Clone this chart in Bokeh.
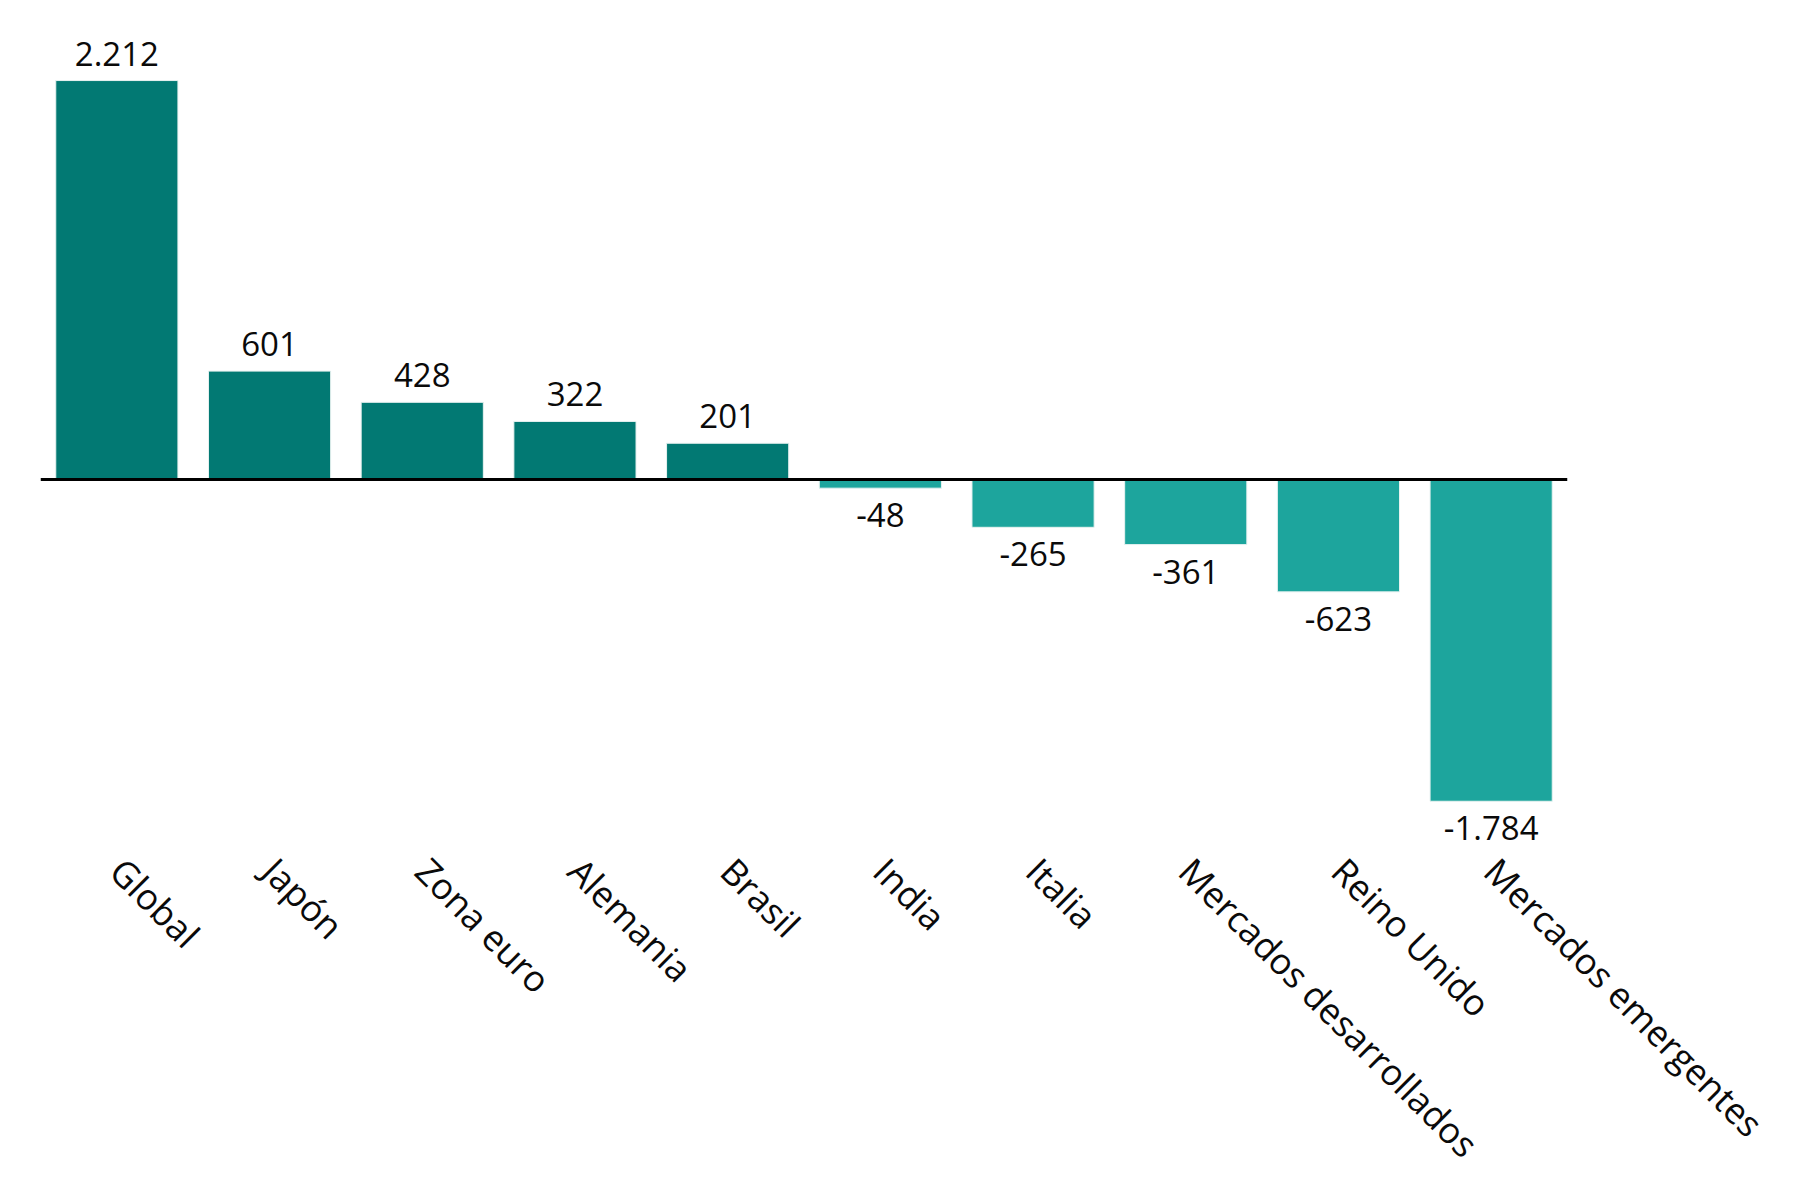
import math
from bokeh.plotting import figure
from bokeh.models import ColumnDataSource, Range1d, Span
from bokeh.core.properties import value
from bokeh.embed import file_html
from bokeh.resources import INLINE

categories = ["Global", "Japón", "Zona euro", "Alemania", "Brasil", "India",
              "Italia", "Mercados desarrollados", "Reino Unido", "Mercados emergentes"]
values = [2212, 601, 428, 322, 201, -48, -265, -361, -623, -1784]
value_labels = ["2.212", "601", "428", "322", "201", "-48", "-265", "-361", "-623", "-1.784"]

POS = "#027973"
NEG = "#1DA59D"
FONT = "Open Sans"

colors = [POS if v >= 0 else NEG for v in values]
offsets = [-15 if v >= 0 else 15 for v in values]
baselines = ["bottom" if v >= 0 else "top" for v in values]

src = ColumnDataSource(dict(cat=categories, val=values, lab=value_labels,
                            color=colors, yoff=offsets, base=baselines))

p = figure(x_range=categories, y_range=Range1d(-2057, 2545),
           frame_width=1527, frame_height=830,
           output_backend="svg", toolbar_location=None,
           min_border_left=40, min_border_right=217, min_border_top=20,
           min_border_bottom=320)

p.vbar(x="cat", top="val", width=0.8, fill_color="color", line_color="#e8f2f1",
       line_width=1, source=src)

p.add_layout(Span(location=0, dimension="width", line_color="black", line_width=3))

p.text(x="cat", y="val", text="lab", y_offset="yoff", text_baseline="base",
       text_align="center", text_font=value(FONT), text_font_size="33px",
       text_color="#0a0a0a", source=src)

p.xaxis.major_label_orientation = -math.pi / 4
p.xaxis.major_label_text_font = FONT
p.xaxis.major_label_text_font_size = "36px"
p.xaxis.major_label_text_color = "#0a0a0a"
p.xaxis.major_label_standoff = 8
p.xaxis.axis_line_color = None
p.xaxis.major_tick_line_color = None
p.xaxis.minor_tick_line_color = None
p.yaxis.visible = False
p.xgrid.grid_line_color = None
p.ygrid.grid_line_color = None
p.outline_line_color = None

open("out.html", "w").write(file_html(p, INLINE))
